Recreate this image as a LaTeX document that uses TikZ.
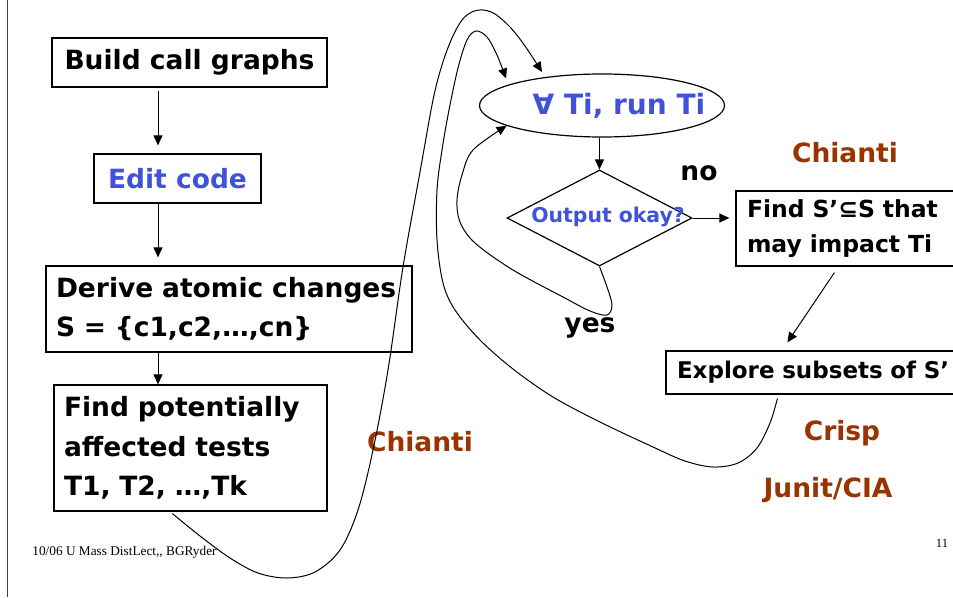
\documentclass[tikz,border=0pt]{standalone}
\usepackage{fontspec}
\usetikzlibrary{arrows.meta,shapes.geometric,calc}
\newfontfamily\comicish{DejaVu Sans}
\newfontfamily\serifft{Liberation Serif}
\definecolor{tblue}{RGB}{64,82,216}
\definecolor{tbrown}{RGB}{153,51,0}
\tikzset{
  mainfont/.style={font=\comicish\bfseries\fontsize{26.5}{39.5}\selectfont},
  box/.style={draw, line width=1.2pt, inner sep=0pt, mainfont},
  smallbox/.style={draw, line width=1.2pt, inner sep=0pt, font=\comicish\bfseries\fontsize{23.5}{35}\selectfont},
  arr/.style={line width=1pt, -{Triangle[length=10pt,width=9pt]}},
  curve/.style={line width=1pt},
  brownlbl/.style={text=tbrown, font=\comicish\bfseries\fontsize{26.5}{30}\selectfont, inner sep=0pt},
  blacklbl/.style={font=\comicish\bfseries\fontsize{26.5}{30}\selectfont, inner sep=0pt},
}
\begin{document}
\begin{tikzpicture}[x=1pt,y=-1pt]
\useasboundingbox (0,0) rectangle (953,597);
\clip (0,0) rectangle (953,597);
\draw[line width=1pt, black!75] (7,0) -- (7,597);

% left column
\node[box, minimum width=275pt, minimum height=49pt] (build) at (189.5,62.5) {Build call graphs};
\node[box, text=tblue, minimum width=167pt, minimum height=49pt] (edit) at (177.5,178.5) {Edit code};
\node[box, minimum width=366pt, minimum height=86pt, text width=346pt, inner xsep=10pt, align=left] (derive) at (229,309) {Derive atomic changes\\S = \{c1,c2,…,cn\}};
\node[box, minimum width=273pt, minimum height=126pt, text width=253pt, inner xsep=10pt, align=left] (find) at (190.5,448) {Find potentially\\affected tests\\T1, T2, …,Tk};

\coordinate (col) at (158,0);
\draw[arr, shorten <=3pt, shorten >=8pt] (build.south -| col) -- (edit.north -| col);
\draw[arr, shorten >=8pt] (edit.south -| col) -- (derive.north -| col);
\draw[arr] (derive.south -| col) -- (find.north -| col);

% right part
\node[draw, ellipse, line width=1.2pt, minimum width=245pt, minimum height=63pt, inner sep=0pt] (run) at (602,105.5) {};
\node[text=tblue, font=\comicish\bfseries\fontsize{28}{30}\selectfont, inner sep=0pt] (runtxt) at (619,106) {∀ Ti, run Ti};
\node[draw, diamond, line width=1.2pt, minimum width=185pt, minimum height=96pt, inner sep=0pt] (dia) at (599.5,218) {};
\node[text=tblue, font=\comicish\bfseries\fontsize{20.4}{24}\selectfont, inner sep=0pt] (diatxt) at (608,217) {Output okay?};

\node[smallbox, minimum width=252pt, minimum height=75pt, text width=230pt, inner xsep=11pt, align=left] (fs) at (862,228.5) {Find S’⊆S that\\may impact Ti};
\node[smallbox, font=\comicish\bfseries\fontsize{23}{30}\selectfont, minimum height=43pt, text width=275pt, inner xsep=11pt, align=left] (ex) at (814.5,372.5) {Explore subsets of S’};

\draw[arr] (run.south -| dia.north) -- (dia.north);
\draw[arr, shorten >=6pt] (dia.east) -- (dia.east -| fs.west);
\draw[arr] ($(fs.south west)+(99,6)$) -- ($(ex.north west)+(122,-8)$);

% labels
\node[blacklbl] (no) at (699,173) {no};
\node[blacklbl] (yes) at (590,328) {yes};
\node[brownlbl] (ch1) at (845,153) {Chianti};
\node[brownlbl] (ch2) at (420,442) {Chianti};
\node[brownlbl] (crisp) at (842,433) {Crisp};
\node[brownlbl] (junit) at (828,490) {Junit/CIA};
\node[font=\serifft\fontsize{13.3}{15}\selectfont, inner sep=0pt] (foot) at (124.5,552) {10/06 U Mass DistLect,, BGRyder};
\node[font=\serifft\fontsize{12.5}{15}\selectfont, inner sep=0pt] (pg) at (942,543) {11};

% curves
\coordinate (o0) at ($(find.south west)+(119,2)$);
\coordinate (t2) at ($(run.center)+(-60,-33.5)$);
\coordinate (i0) at ($(ex.south west)+(112,4)$);
\coordinate (t1) at ($(run.center)+(-96,-27)$);

\draw[curve, -{Triangle[length=10pt,width=9pt]}] plot[smooth, tension=0.55] coordinates {
  (o0) (200,536) (230,558) (258,573) (287,578) (315,572) (340,550) (358,510)
  (373,450) (388,370) (403,267) (420,172) (433,100) (442,65) (452,38) (462,20)
  (472,12) (483,10) (495,14) (510,27) (525,46) (t2)};

\draw[curve, -{Triangle[length=10pt,width=9pt]}] plot[smooth, tension=0.55] coordinates {
  (i0) (770,423) (757,448) (738,463) (713,467) (685,461) (653,447) (600,422)
  (553,397) (513,369) (480,340) (455,310) (443,283) (437,240) (437,190)
  (442,150) (449,110) (458,68) (467,40) (476,31) (487,37) (497,55) (t1)};

\draw[curve, -{Triangle[length=10pt,width=9pt]}] plot[smooth, tension=0.55] coordinates {
  (dia.south) (607,287) (612,305) (607,315) (590,311) (563,297) (513,270)
  (475,243) (460,222) (457,200) (462,175) (473,150) (run.192)};
\end{tikzpicture}
\end{document}
